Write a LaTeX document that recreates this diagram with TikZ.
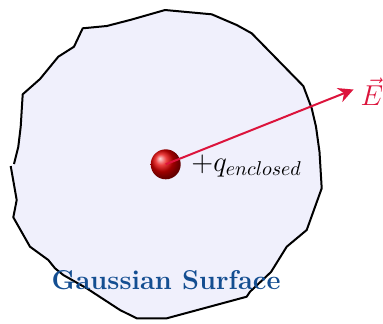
\documentclass[tikz,border=0pt]{standalone}
\usetikzlibrary{arrows.meta}
\definecolor{surf}{RGB}{240,240,252}
\definecolor{crim}{RGB}{220,20,60}
\definecolor{gblue}{RGB}{20,78,145}
\tikzset{
  surface/.style={fill=surf, draw=black, line width=1pt, line join=round},
  charge/.style={circle, minimum size=15pt, inner sep=0pt, ball color=red!90!black},
  field/.style={-{Stealth[length=7.5pt,width=7.5pt]}, draw=crim, line width=1pt},
  lbl/.style={font=\fontsize{14}{16}\selectfont, inner sep=1pt}
}
\begin{document}
\begin{tikzpicture}[x=0.5pt,y=-0.5pt]
\useasboundingbox (0,0) rectangle (383,323);
\filldraw[surface] (10.7,166) -- (16.7,200) -- (13.3,217.3) -- (30,246.7) -- (48.3,260) -- (55,268.3)
  -- (63.3,275) -- (86.7,288.3) -- (120,310) -- (136.7,318.3) -- (166.7,318.3) -- (246.7,296.7)
  -- (250,291.7) -- (271,272) -- (286.7,246.7) -- (306.7,230) -- (321.7,188.3) -- (319.5,152)
  -- (316,126.7) -- (311.7,108.3) -- (303.3,86) -- (251.7,33.3) -- (236.7,25) -- (211.7,14.3)
  -- (165,10) -- (130,20) -- (106.7,26) -- (82.7,28.3) -- (74,46.7) -- (58.3,56.7) -- (40,79)
  -- (22.7,94.3) -- (20.7,126.7) -- (18.3,146.7) -- (14,164);
\node[charge] (q) at (165.7,164.3) {};
\coordinate (tip) at (353.5,89.5);
\draw[field] (q.center) -- (tip);
\node[lbl, text=crim] (E) at (372,92) {$\vec{E}$};
\node[lbl, anchor=west] (ql) at (189,166) {$+q_{enclosed}$};
\node[text=gblue, font=\fontsize{13.6}{15}\selectfont\bfseries] (gs) at (166,280) {Gaussian Surface};
\end{tikzpicture}
\end{document}
